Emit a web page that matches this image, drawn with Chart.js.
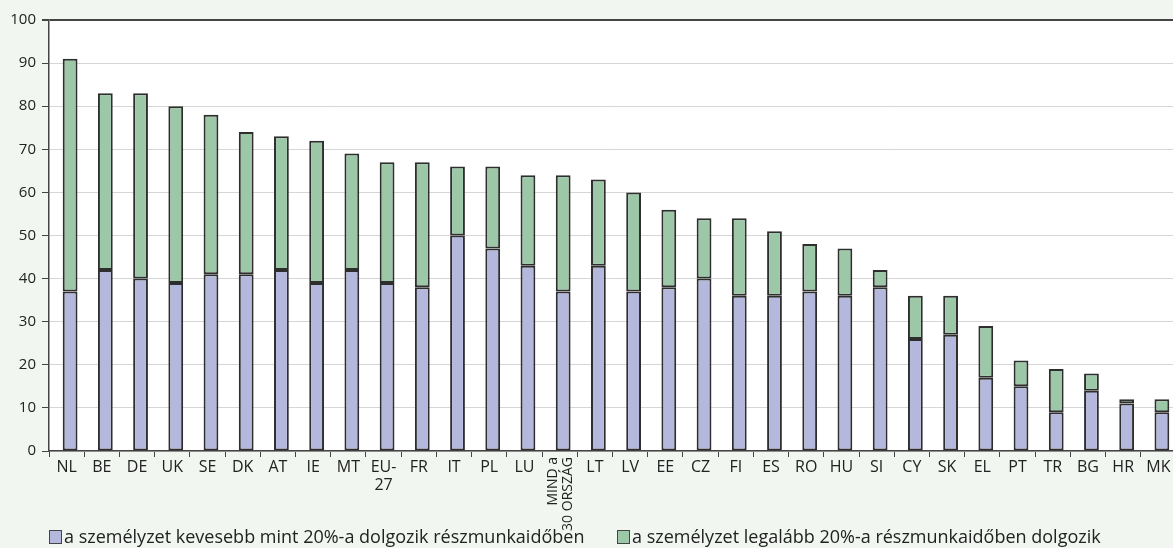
<!DOCTYPE html>
<html>
<head>
<meta charset="utf-8">
<script src="https://cdn.jsdelivr.net/npm/chart.js@4"></script>
<style>
  html, body { margin: 0; padding: 0; overflow: hidden; background: #f1f6f0; }
  #wrap { position: relative; width: 1180px; height: 548px; }
  .legend { position: absolute; top: 526px; line-height: 20px; font-family: "Open Sans", sans-serif; font-size: 18px; color: #222; white-space: nowrap; }
  .legend span.box { display: inline-block; width: 11px; height: 12px; border: 1px solid #444; margin-right: 2px; vertical-align: -1px; }
</style>
</head>
<body>
<div id="wrap">
  <canvas id="chart" width="1180" height="548"></canvas>
  <div class="legend" style="left:49px"><span class="box" style="background:#b4b8dc"></span>a személyzet kevesebb mint 20%-a dolgozik részmunkaidőben</div>
  <div class="legend" style="left:617px"><span class="box" style="background:#9cc8a8"></span>a személyzet legalább 20%-a részmunkaidőben dolgozik</div>
</div>
<script>
const categories = ["NL", "BE", "DE", "UK", "SE", "DK", "AT", "IE", "MT", "EU-27", "FR", "IT", "PL", "LU",
    "MIND a 30 ORSZÁG", "LT", "LV", "EE", "CZ", "FI", "ES", "RO", "HU", "SI", "CY", "SK", "EL", "PT", "TR", "BG", "HR", "MK"];

// kevesebb mint 20% részmunkaidős
const lessThan20 = [37, 42, 40, 39, 41, 41, 42, 39, 42, 39, 38, 50, 47, 43, 37, 43, 37, 38, 40, 36, 36, 37, 36, 38, 26, 27, 17, 15, 9, 14, 11, 9];
// legalább 20% részmunkaidős
const atLeast20 = [54, 41, 43, 41, 37, 33, 31, 33, 27, 28, 29, 16, 19, 21, 27, 20, 23, 18, 14, 18, 15, 11, 11, 4, 10, 9, 12, 6, 10, 4, 1, 3];

const yTicks = [0, 10, 20, 30, 40, 50, 60, 70, 80, 90, 100];

const rotatedIndex = categories.indexOf("MIND a 30 ORSZÁG");
const rotatedLines = ["MIND a", "30 ORSZÁG"];

function tickLabel(i) {
    const c = categories[i];
    if (i === rotatedIndex) return "";
    if (c === "EU-27") return ["EU-", "27"];
    return c;
}

const background = {
    id: "background",
    beforeDraw(chart) {
        const { ctx, chartArea } = chart;
        ctx.save();
        ctx.fillStyle = "#f1f6f0";
        ctx.fillRect(0, 0, chart.width, chart.height);
        ctx.fillStyle = "#ffffff";
        ctx.fillRect(chartArea.left, chartArea.top, chartArea.right - chartArea.left, chartArea.bottom - chartArea.top);
        ctx.restore();
    }
};

// bars sit a little right of the category centre in the original
const barShift = {
    id: "barShift",
    beforeDatasetsDraw(chart) { chart.ctx.save(); chart.ctx.translate(3.5, 0); },
    afterDatasetsDraw(chart) { chart.ctx.restore(); }
};

const rotatedLabel = {
    id: "rotatedLabel",
    afterDraw(chart) {
        const { ctx } = chart;
        const x = chart.scales.x.getPixelForTick(rotatedIndex);
        const top = chart.chartArea.bottom + 6;
        ctx.save();
        ctx.font = "14px 'Open Sans'";
        ctx.fillStyle = "#222";
        ctx.textAlign = "right";
        ctx.textBaseline = "middle";
        rotatedLines.forEach((line, k) => {
            ctx.save();
            ctx.translate(x - 7 + k * 15, top);
            ctx.rotate(-Math.PI / 2);
            ctx.fillText(line, 0, 0);
            ctx.restore();
        });
        ctx.restore();
    }
};

new Chart(document.getElementById("chart"), {
    type: "bar",
    data: {
        labels: categories,
        datasets: [
            {
                label: "a személyzet kevesebb mint 20%-a dolgozik részmunkaidőben",
                data: lessThan20,
                backgroundColor: "#b4b8dc",
                borderColor: "#2e2e2e",
                borderWidth: 2,
                borderSkipped: false,
                barPercentage: 0.42,
                categoryPercentage: 1
            },
            {
                label: "a személyzet legalább 20%-a részmunkaidőben dolgozik",
                data: atLeast20,
                backgroundColor: "#9cc8a8",
                borderColor: "#2e2e2e",
                borderWidth: 2,
                borderSkipped: false,
                barPercentage: 0.42,
                categoryPercentage: 1
            }
        ]
    },
    options: {
        responsive: false,
        animation: false,
        layout: { padding: { top: 20, right: 4, left: 0, bottom: 0 } },
        plugins: {
            legend: { display: false },
            tooltip: { enabled: false }
        },
        scales: {
            x: {
                stacked: true,
                afterFit(scale) { scale.height = 97; },
                grid: { display: true, drawOnChartArea: false, offset: true, tickLength: 6, color: "#444", lineWidth: 1 },
                border: { color: "#444", width: 1.5 },
                ticks: {
                    autoSkip: false,
                    maxRotation: 0,
                    minRotation: 0,
                    padding: 1,
                    color: "#222",
                    font: { family: "Open Sans", size: 16, lineHeight: 1.15 },
                    callback: (v, i) => tickLabel(i)
                }
            },
            y: {
                stacked: true,
                min: 0,
                max: 100,
                afterFit(scale) { scale.width = 49; },
                afterBuildTicks(scale) { scale.ticks = yTicks.map(v => ({ value: v })); },
                grid: {
                    color: c => c.tick && c.tick.value === 100 ? "#444" : "#d6d6d6",
                    lineWidth: c => c.tick && c.tick.value === 100 ? 2 : 1,
                    tickColor: "#444",
                    tickLength: 7
                },
                border: { color: "#444", width: 1.5 },
                ticks: {
                    padding: 6,
                    color: "#222",
                    font: { family: "Open Sans", size: 15 }
                }
            }
        }
    },
    plugins: [background, barShift, rotatedLabel]
});
</script>
</body>
</html>
